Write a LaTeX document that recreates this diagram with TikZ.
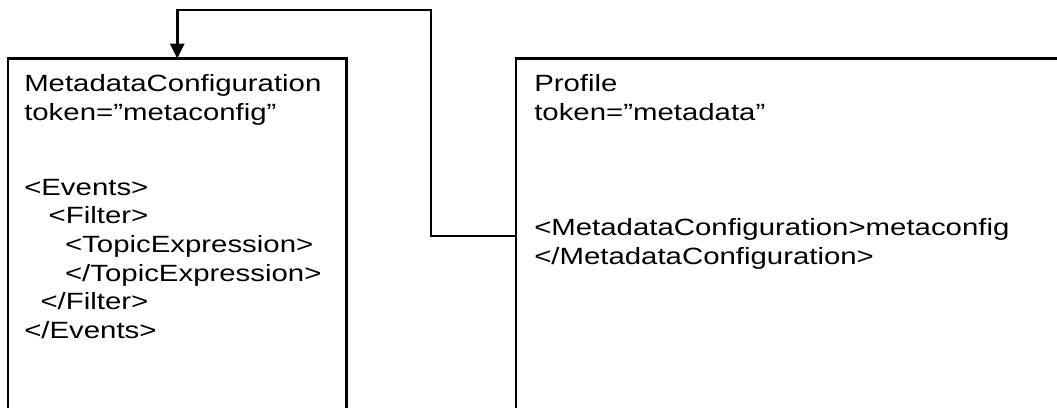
\documentclass[tikz,border=0pt]{standalone}
\usepackage{fontspec}
\setmainfont{Liberation Sans}
\usetikzlibrary{arrows.meta}

\tikzset{
  box/.style={draw, line width=2.7pt, anchor=north west, inner sep=0pt, outer sep=0pt},
  link/.style={line width=2.7pt, -{Triangle[width=14pt,length=15pt]}},
  xml/.style={anchor=base west, inner sep=0pt, align=left, xscale=1.25,
    font=\fontsize{23.5}{28.7}\selectfont},
}

\begin{document}
\begin{tikzpicture}[x=1pt,y=-1pt]
\useasboundingbox (0,0) rectangle (1057,407);
\clip (0,0) rectangle (1057,407);

% the two boxes, open at the bottom
\node[box, minimum width=338.5pt, minimum height=400pt] (cfg) at (8,58.5) {};
\node[box, minimum width=600pt, minimum height=400pt] (prof) at (516,58.5) {};

% base of a text block = baseline of its last line
\node[xml] (cfghead) at (24,120.2) {MetadataConfiguration\\token=”metaconfig”};
\node[xml] (cfgbody) at (24,338.5) {<Events>\\
  \hspace*{0.834em}<Filter>\\
  \hspace*{1.39em}<TopicExpression>\\
  \hspace*{1.39em}</TopicExpression>\\
  \hspace*{0.556em}</Filter>\\
  </Events>};

\node[xml] (profhead) at (534,120.2) {Profile\\token=”metadata”};
\node[xml] (profbody) at (534,264.2) {<MetadataConfiguration>metaconfig\\
  </MetadataConfiguration>};

% reference from the profile back to the configuration
\coordinate (tap) at (516,236);
\coordinate (bend) at (431,10);
\draw[link] (prof.west |- tap) -| (bend) -| (cfg.north);

\end{tikzpicture}
\end{document}
